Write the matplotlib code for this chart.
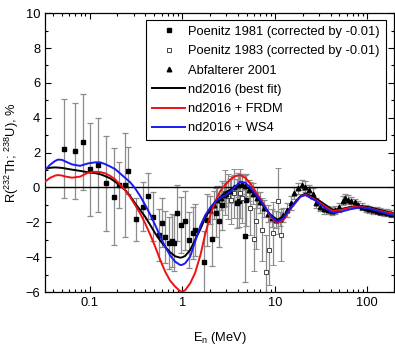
import numpy as np
import matplotlib
matplotlib.use("Agg")
import matplotlib.pyplot as plt
from matplotlib.lines import Line2D
from matplotlib.ticker import MultipleLocator, NullFormatter

plt.rcParams['font.family'] = ['Liberation Sans', 'DejaVu Sans']
plt.rcParams['mathtext.default'] = 'regular'
plt.rcParams['font.size'] = 9.3

# Poenitz 1981 (filled squares)
p81_e = [0.0534, 0.0697, 0.0857, 0.101, 0.123, 0.150, 0.185, 0.208, 0.242, 0.263,
         0.320, 0.376, 0.432, 0.489, 0.555, 0.603, 0.655, 0.724, 0.772, 0.825,
         0.875, 0.976, 1.074, 1.186, 1.30, 1.39, 1.70, 1.85, 2.12, 2.30, 2.51,
         2.68, 3.89, 4.12, 4.71, 4.90]
p81_r = [2.22, 2.10, 2.60, 1.04, 1.28, 0.23, -0.53, 0.14, 0.14, 0.96,
         -1.83, -1.10, -0.49, -1.68, -2.73, -2.02, -2.86, -3.20, -3.05, -3.20,
         -1.45, -2.17, -1.91, -3.00, -2.63, -2.44, -4.30, -1.87, -2.98, -1.45, -1.90,
         -1.03, -0.91, -0.76, -2.77, -0.72]
p81_err = [2.83, 2.75, 2.75, 2.67, 2.70, 2.74, 2.80, 1.30, 3.00, 1.34,
           1.25, 1.40, 1.33, 1.40, 1.50, 1.40, 1.50, 1.50, 1.50, 1.60,
           1.60, 1.60, 1.70, 1.60, 1.50, 1.50, 1.80, 1.50, 1.50, 1.40, 1.50,
           1.40, 1.40, 1.50, 2.65, 1.50]

# Poenitz 1983 (open squares)
p83_e = [2.90, 3.10, 3.39, 3.65, 4.24, 4.42, 5.43, 6.00, 6.30, 7.28, 7.96, 8.60,
         9.57, 10.9, 11.8]
p83_r = [-0.30, -0.50, -0.72, -0.34, -0.34, -0.63, -1.20, -2.98, -1.91, -2.42,
         -4.84, -3.57, -2.63, -0.76, -2.71]
p83_err = [1.3, 1.3, 1.4, 1.4, 1.4, 1.4, 1.5, 1.8, 1.6, 1.8, 2.1, 2.0, 1.8, 1.9, 1.5]

# Abfalterer 2001 (triangles)
ab_e = [2.0, 2.2, 2.4, 2.6, 2.8, 3.0, 3.3, 3.6, 4.0, 4.4, 4.8, 5.3, 5.8, 6.4,
        7.0, 7.7, 8.5, 9.4, 10.3, 11.3, 12.4, 13.6, 14.9, 16.3, 17.8, 19.5,
        21.4, 23.5, 25.7, 28.2, 31, 34, 37.3, 41, 45, 49.4, 54, 58, 62, 67,
        73, 80, 88, 96, 105, 115, 126, 138, 151, 165, 181]
ab_r = [-1.30, -1.00, -0.70, -0.60, -0.45, -0.35, -0.20, 0.00, 0.15, 0.20,
        0.10, -0.15, -0.35, -0.60, -0.85, -1.20, -1.50, -1.75, -1.85, -1.80,
        -1.60, -1.30, -0.90, -0.30, -0.05, 0.15, 0.05, -0.15, -0.35, -0.90,
        -1.10, -1.25, -1.30, -1.35, -1.30, -1.15, -0.75, -0.60, -0.70, -0.80,
        -0.85, -1.00, -1.10, -1.20, -1.25, -1.30, -1.35, -1.40, -1.42, -1.45,
        -1.50]
ab_err = [0.8, 0.8, 0.8, 0.7, 0.7, 0.7, 0.7, 0.7, 0.7, 0.6, 0.6, 0.6, 0.6, 0.6,
          0.6, 0.5, 0.5, 0.5, 0.5, 0.4, 0.4, 0.4, 0.4, 0.35, 0.3, 0.3, 0.3, 0.3,
          0.3, 0.3, 0.25, 0.25, 0.25, 0.25, 0.25, 0.25, 0.25, 0.25, 0.25, 0.25,
          0.2, 0.2, 0.2, 0.2, 0.2, 0.2, 0.2, 0.2, 0.2, 0.2, 0.2]

# model curves
curve_e = [0.033, 0.0374, 0.0424, 0.0456, 0.0505, 0.0543, 0.0647, 0.0789, 0.0964,
           0.115, 0.130, 0.147, 0.167, 0.189, 0.214, 0.242, 0.274, 0.310, 0.352,
           0.398, 0.451, 0.511, 0.578, 0.655, 0.741, 0.840, 0.951, 1.00, 1.077,
           1.22, 1.38, 1.57, 1.77, 2.01, 2.28, 2.58, 2.92, 3.31, 3.74, 4.24,
           4.80, 5.43, 6.15, 6.96, 7.89, 8.94, 10.6, 12.4, 14.7, 18.9, 21.4,
           27.4, 35.2, 41.9, 51.1, 65.5, 84.0, 108, 138, 201]
best_fit = [1.05, 1.13, 1.15, 1.14, 1.12, 1.09, 1.02, 0.95, 0.87,
            0.82, 0.76, 0.65, 0.52, 0.33, 0.10, -0.15, -0.50, -0.91, -1.30,
            -1.68, -2.15, -2.63, -3.05, -3.40, -3.72, -3.95, -4.03, -4.01, -3.93,
            -3.59, -3.00, -2.40, -1.75, -1.25, -0.85, -0.55, -0.30, -0.12, 0.05, 0.12,
            0.05, -0.10, -0.40, -0.80, -1.20, -1.55, -1.85, -1.70, -1.15, -0.50, -0.35,
            -0.60, -1.00, -1.28, -1.25, -1.12, -1.07, -1.15, -1.30, -1.50]
frdm = [0.33, 0.55, 0.68, 0.71, 0.68, 0.63, 0.56, 0.62, 0.85,
        0.90, 0.88, 0.81, 0.66, 0.46, 0.15, -0.15, -0.55, -1.01, -1.50,
        -2.06, -2.70, -3.40, -4.15, -4.83, -5.35, -5.69, -5.95, -5.98, -5.90,
        -5.50, -4.90, -3.90, -2.70, -1.60, -0.80, -0.20, 0.15, 0.46, 0.65, 0.71,
        0.55, 0.24, -0.20, -0.63, -1.10, -1.68, -2.06, -1.87, -1.26, -0.53, -0.40,
        -0.70, -1.10, -1.35, -1.30, -1.15, -1.10, -1.20, -1.35, -1.53]
ws4 = [1.00, 1.30, 1.52, 1.60, 1.58, 1.50, 1.32, 1.24, 1.38,
       1.44, 1.44, 1.34, 1.20, 1.05, 0.80, 0.55, 0.30, -0.05, -0.50,
       -1.00, -1.55, -2.16, -2.80, -3.40, -3.90, -4.26, -4.45, -4.44, -4.35,
       -3.97, -3.10, -2.20, -1.60, -1.15, -0.80, -0.60, -0.45, -0.25, 0.05, 0.33,
       0.27, 0.00, -0.35, -0.72, -1.15, -1.58, -1.97, -1.77, -1.20, -0.53, -0.44,
       -0.75, -1.20, -1.45, -1.40, -1.25, -1.14, -1.22, -1.40, -1.64]

labels = ['Poenitz 1981 (corrected by -0.01)', 'Poenitz 1983 (corrected by -0.01)',
          'Abfalterer 2001', 'nd2016 (best fit)', 'nd2016 + FRDM', 'nd2016 + WS4']

fig = plt.figure(figsize=(3.95, 3.46), dpi=100)
ax = fig.add_axes([0.114, 0.156, 0.884, 0.806])

ekw = dict(ecolor='#8c8c8c', elinewidth=0.9, capsize=2.2, capthick=0.9, ls='none')
ax.errorbar(p81_e, p81_r, yerr=p81_err, fmt='s', ms=3.0, color='black', **ekw)
ax.errorbar(p83_e, p83_r, yerr=p83_err, fmt='s', ms=3.0, mfc='white', mec='#444444',
            mew=0.7, **ekw)
ax.errorbar(ab_e, ab_r, yerr=ab_err, fmt='^', ms=3.3, color='black', **ekw)

ax.axhline(0, color='black', lw=1.0, zorder=3)
ax.plot(curve_e, best_fit, color='black', lw=1.4, zorder=4)
ax.plot(curve_e, frdm, color='#ee1111', lw=1.4, zorder=4)
ax.plot(curve_e, ws4, color='#1a1aee', lw=1.4, zorder=5)

ax.set_xscale('log')
ax.set_xlim(0.033, 195)
ax.set_ylim(-6, 10)
ax.set_xticks([0.1, 1, 10, 100])
ax.set_xticklabels(['0.1', '1', '10', '100'])
ax.xaxis.set_minor_formatter(NullFormatter())
ax.yaxis.set_major_locator(MultipleLocator(2))
ax.yaxis.set_minor_locator(MultipleLocator(1))
ax.tick_params(which='both', direction='in', top=True, right=True, width=0.8)
ax.tick_params(which='major', length=4.5)
ax.tick_params(which='minor', length=2.5)
for s in ax.spines.values():
    s.set_linewidth(0.9)

ax.set_xlabel('E$_n$ (MeV)', labelpad=15)
ax.set_ylabel('R($^{232}$Th; $^{238}$U), %', labelpad=3)

# legend handles without error bars, same order as the reference
handles = [
    Line2D([], [], ls='none', marker='s', ms=3.0, color='black'),
    Line2D([], [], ls='none', marker='s', ms=3.0, mfc='white', mec='#444444', mew=0.7),
    Line2D([], [], ls='none', marker='^', ms=3.3, color='black'),
    Line2D([], [], color='black', lw=1.4),
    Line2D([], [], color='#ee1111', lw=1.4),
    Line2D([], [], color='#1a1aee', lw=1.4),
]
leg = ax.legend(handles, labels, loc='upper right', bbox_to_anchor=(0.976, 0.975),
                borderaxespad=0, fancybox=False, edgecolor='black', framealpha=1,
                handlelength=2.55, handletextpad=0.25, labelspacing=0.56,
                borderpad=0.45, numpoints=1)
leg.get_frame().set_linewidth(0.8)

fig.savefig('out.png', dpi=100)
